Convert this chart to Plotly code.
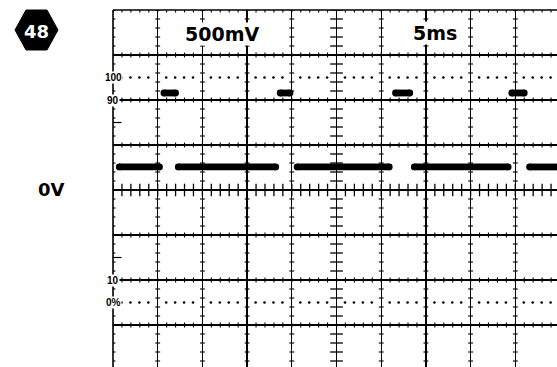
import numpy as np
import plotly.graph_objects as go

# ---------------- data (time in ms, voltage in V) ----------------
volts_per_div = 0.5
ms_per_div = 5
low_level = 0.256
high_level = 1.078
low_starts = [0.7, 7.3, 20.6, 33.7, 46.6]
low_ends = [5.2, 18.2, 30.9, 44.2, 50.0]
high_starts = [5.7, 18.7, 31.6, 44.6]
high_ends = [7.0, 19.8, 33.2, 46.0]

ref_labels = ["100", "90", "10", "0%"]
ref_levels = [1.25, 1.0, -1.0, -1.25]
dot_levels = [1.25, -1.25]
dot_offsets = [0.95, 1.95, 2.95, 3.95]

# ---------------- geometry ----------------
W, H = 557, 367
ML, MT = 113, 10
PW, PH = W - ML, H - MT
px_per_div = 44.7
x_max = PW / px_per_div * ms_per_div
y_top = 4 * volts_per_div
y_bot = y_top - PH / 45.0 * volts_per_div


def pxx(x):
    return (x - ML) / PW


def pxy(y):
    return (H - y) / PH


def segs(starts, ends, level):
    xs, ys = [], []
    for s, e in zip(starts, ends):
        xs += [s, e, None]
        ys += [level, level, None]
    return xs, ys


fig = go.Figure()

# graticule minor ticks
h_lines = np.arange(-2.0, 2.01, 0.5)
v_lines = np.arange(0, 50.1, 5)
tx, ty = [], []
for yv in h_lines:
    if abs(yv) < 1e-9:
        continue
    for xv in np.arange(0, 50.1, 1):
        tx.append(xv); ty.append(yv)
fig.add_trace(go.Scatter(x=tx, y=ty, mode="markers", hoverinfo="skip",
                         marker=dict(symbol="line-ns", size=3.5, line=dict(width=1.1, color="black"))))
tx = list(np.arange(0, 50.1, 1))
fig.add_trace(go.Scatter(x=tx, y=[0] * len(tx), mode="markers", hoverinfo="skip",
                         marker=dict(symbol="line-ns", size=9, line=dict(width=1.3, color="black"))))
tx, ty = [], []
for xv in v_lines:
    if abs(xv - 25) < 1e-9:
        continue
    for yv in np.arange(-2.0, 2.01, 0.1):
        tx.append(xv); ty.append(yv)
fig.add_trace(go.Scatter(x=tx, y=ty, mode="markers", hoverinfo="skip",
                         marker=dict(symbol="line-ew", size=3.5, line=dict(width=1.1, color="black"))))
ty = list(np.arange(-2.0, 2.01, 0.1))
fig.add_trace(go.Scatter(x=[25] * len(ty), y=ty, mode="markers", hoverinfo="skip",
                         marker=dict(symbol="line-ew", size=9, line=dict(width=1.3, color="black"))))

# dotted 0% / 100% lines
dx, dy = [], []
for lv in dot_levels:
    for cell in range(10):
        for off in dot_offsets:
            dx.append(cell * ms_per_div + off); dy.append(lv)
fig.add_trace(go.Scatter(x=dx, y=dy, mode="markers", hoverinfo="skip",
                         marker=dict(symbol="circle", size=2.6, color="black")))

# waveform
for starts, ends, lvl in [(low_starts, low_ends, low_level), (high_starts, high_ends, high_level)]:
    xs, ys = segs(starts, ends, lvl)
    fig.add_trace(go.Scatter(x=xs, y=ys, mode="lines+markers", hoverinfo="skip",
                             line=dict(color="black", width=6.8),
                             marker=dict(size=6.8, color="black")))

shapes = [
    dict(type="line", xref="paper", yref="paper", x0=0, x1=1, y0=1, y1=1,
         line=dict(color="black", width=1.6), layer="below"),
    dict(type="line", xref="paper", yref="paper", x0=0, x1=0, y0=0, y1=1,
         line=dict(color="black", width=1.6), layer="below"),
    dict(type="line", xref="x", yref="y", x0=0, x1=0.95, y0=0.75, y1=0.75,
         line=dict(color="black", width=1.2), layer="below"),
    dict(type="line", xref="x", yref="y", x0=0, x1=0.95, y0=-0.75, y1=-0.75,
         line=dict(color="black", width=1.2), layer="below"),
]
hexpts = [(15, 30), (26, 10), (47, 10), (58, 30), (47, 50), (26, 50)]
path = "M " + " L ".join(f"{pxx(a):.5f},{pxy(b):.5f}" for a, b in hexpts) + " Z"
shapes.append(dict(type="path", xref="paper", yref="paper", path=path,
                   fillcolor="black", line=dict(color="black", width=1)))

annotations = []
for t, lv in zip(ref_labels, ref_levels):
    annotations.append(dict(x=0, y=lv, xref="x", yref="y", text=f"<b>{t}</b>", showarrow=False,
                            xanchor="center", yanchor="middle", bgcolor="white", borderpad=0,
                            font=dict(family="Liberation Sans Narrow, Liberation Sans", size=10, color="black")))
big = dict(family="DejaVu Sans", size=19, color="black")
annotations += [
    dict(x=pxx(222), y=pxy(33.5), xref="paper", yref="paper", text="<b>500mV</b>", showarrow=False,
         xanchor="center", yanchor="middle", bgcolor="white", borderpad=0, font=big),
    dict(x=pxx(434.5), y=pxy(32.5), xref="paper", yref="paper", text="<b>5ms</b>", showarrow=False,
         xanchor="center", yanchor="middle", bgcolor="white", borderpad=0, font=big),
    dict(x=pxx(51.5), y=pxy(189), xref="paper", yref="paper", text="<b>0V</b>", showarrow=False,
         xanchor="center", yanchor="middle", font=dict(family="DejaVu Sans", size=18, color="black")),
    dict(x=pxx(36.5), y=pxy(31), xref="paper", yref="paper", text="<b>48</b>", showarrow=False,
         xanchor="center", yanchor="middle", font=dict(family="DejaVu Sans", size=18, color="white")),
]

axis_common = dict(showgrid=True, gridcolor="black", gridwidth=1.4, zeroline=False,
                   showticklabels=False, ticks="", showline=False, fixedrange=True)
fig.update_layout(
    width=W, height=H, margin=dict(l=ML, r=0, t=MT, b=0),
    paper_bgcolor="white", plot_bgcolor="white", showlegend=False,
    xaxis=dict(range=[0, x_max], dtick=ms_per_div, tick0=0, **axis_common),
    yaxis=dict(range=[y_bot, y_top], dtick=volts_per_div, tick0=0, **axis_common),
    shapes=shapes, annotations=annotations,
)
fig.write_html("out.html", config={"displayModeBar": False, "staticPlot": True},
               post_script="document.body.style.margin='0px';document.body.style.overflow='hidden';")
